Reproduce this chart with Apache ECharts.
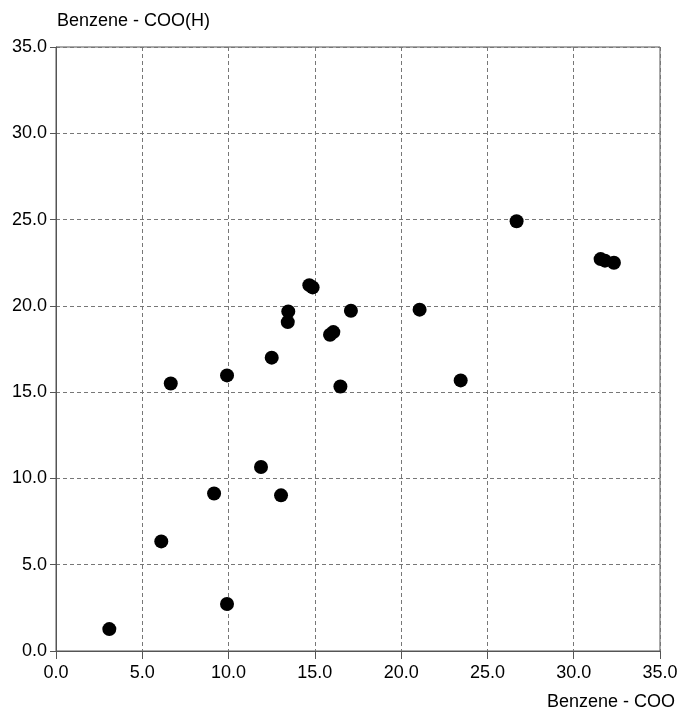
<!DOCTYPE html>
<html>
<head>
<meta charset="utf-8">
<script src="https://cdn.jsdelivr.net/npm/echarts@6/dist/echarts.min.js"></script>
<style>
html,body{margin:0;padding:0;background:#fff;}
#chart{width:682px;height:710px;}
</style>
</head>
<body>
<div id="chart"></div>
<script>
var xName = 'Benzene - COO';
var yName = 'Benzene - COO(H)';
var xValues = [3.09, 6.10, 6.65, 9.16, 9.91, 9.91, 11.88, 12.50, 13.04, 13.43, 13.46, 14.68, 14.87, 15.88, 16.07, 16.48, 17.09, 21.07, 23.45, 26.69, 31.56, 31.81, 32.33];
var yValues = [1.27, 6.35, 15.50, 9.13, 2.72, 15.97, 10.66, 17.00, 9.02, 19.06, 19.68, 21.20, 21.07, 18.33, 18.48, 15.33, 19.72, 19.78, 15.68, 24.90, 22.71, 22.62, 22.50];
var axisMin = 0, axisMax = 35, axisStep = 5;

var points = xValues.map(function (x, i) { return [x, yValues[i]]; });
var font = 'Liberation Sans, Arial, Helvetica, sans-serif';

var chart = echarts.init(document.getElementById('chart'));
chart.setOption({
  animation: false,
  backgroundColor: '#fff',
  grid: { left: 56, right: 22, top: 47, bottom: 59, show: true, borderColor: '#555', borderWidth: 1, backgroundColor: 'transparent' },
  xAxis: {
    type: 'value', min: axisMin, max: axisMax, interval: axisStep,
    axisLine: { show: true, lineStyle: { color: '#555', width: 1 } },
    axisTick: { show: true, length: 8, lineStyle: { color: '#555' } },
    axisLabel: { margin: 13, color: '#000', fontSize: 18, fontFamily: font, formatter: function (v) { return v.toFixed(1); } },
    splitLine: { show: true, lineStyle: { color: '#777', type: [4, 3], width: 1 } }
  },
  yAxis: {
    type: 'value', min: axisMin, max: axisMax, interval: axisStep,
    axisLine: { show: true, lineStyle: { color: '#555', width: 1 } },
    axisTick: { show: true, length: 6, lineStyle: { color: '#555' } },
    axisLabel: { margin: 9, color: '#000', fontSize: 18, fontFamily: font, formatter: function (v) { return v.toFixed(1); } },
    splitLine: { show: true, lineStyle: { color: '#777', type: [4, 3], width: 1 } }
  },
  graphic: [
    { type: 'text', left: 57, top: 12, style: { text: yName, fill: '#000', font: '18px ' + font } },
    { type: 'text', right: 7, top: 693, style: { text: xName, fill: '#000', font: '18px ' + font } }
  ],
  series: [{
    type: 'scatter',
    data: points,
    symbol: 'circle',
    symbolSize: 14,
    itemStyle: { color: '#000', opacity: 1 }
  }]
});
</script>
</body>
</html>
